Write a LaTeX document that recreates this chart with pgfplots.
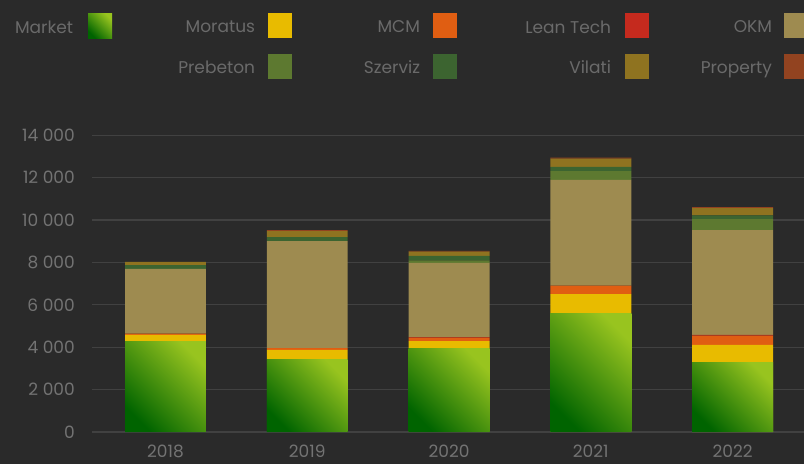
\documentclass[border=0pt]{standalone}
\usepackage{pgfplots}
\pgfplotsset{compat=1.18}
\usepackage{fontspec}
\setmainfont{Poppins}
\definecolor{bg}{HTML}{2A2A2A}
\definecolor{gridc}{HTML}{414141}
\definecolor{txt}{HTML}{6A6A6A}
\definecolor{tick}{HTML}{737373}
\definecolor{mkD}{HTML}{006400}
\definecolor{mkL}{HTML}{98C41F}
\definecolor{mor}{HTML}{E8BB00}
\definecolor{mcm}{HTML}{E05E12}
\definecolor{lean}{HTML}{C52A1E}
\definecolor{okm}{HTML}{9E8B50}
\definecolor{pre}{HTML}{5D7930}
\definecolor{sze}{HTML}{3C6430}
\definecolor{vil}{HTML}{8F7320}
\definecolor{prop}{HTML}{924320}
\pgfplotsset{
  sw/.style={legend image code/.code={\fill[##1] (0pt,-12.5pt) rectangle (24pt,12.5pt);}},
  frame/.style={scale only axis, width=712pt, height=296.8pt,
    at={(92pt,32pt)}, anchor=south west, bar width=0.571,
    xmin=-0.5185, xmax=4.504, ymin=0, ymax=14000},
  mk/.style={draw=none, top color=mkL, bottom color=mkD, shading angle=-45, bar shift=0pt},
}
\begin{document}
\begin{tikzpicture}
\useasboundingbox (0,0) rectangle (804pt,464pt);
\fill[bg] (0,0) rectangle (804pt,464pt);
\begin{axis}[
  frame,
  ybar stacked,
  every axis plot post/.append style={sw},
  axis line style={draw=none},
  major tick length=0pt,
  scaled y ticks=false,
  ymajorgrids, grid style={gridc, line width=1.2pt},
  ytick={0,2000,4000,6000,8000,10000,12000,14000},
  yticklabels={0,2 000,4 000,6 000,8 000,10 000,12 000,14 000},
  xtick={0,1,2,3,4},
  xticklabels={2018,2019,2020,2021,2022},
  tick label style={font=\fontsize{17}{20}\selectfont, text=tick},
  yticklabel style={anchor=east, inner sep=0pt, xshift=-17pt},
  xticklabel style={anchor=north, inner sep=0pt, yshift=-13pt},
  legend columns=5,
  legend plot pos=right,
  legend cell align=left,
  legend style={at={(-0.1292,1.4117)}, anchor=north west, draw=none, fill=none,
    inner sep=0pt, outer sep=0pt, column sep=0pt, row sep=15.5pt,
    font=\fontsize{17}{20}\selectfont, text=txt,
    nodes={inner sep=0pt, outer sep=0pt, yshift=-2pt}},
]
\addplot[draw=none, top color=mkL, bottom color=mkD, shading angle=-45]
  coordinates {(0,4261) (1,3443) (2,3962) (3,5613) (4,3286)};
\addlegendentry{\makebox[88pt][r]{Market\hspace*{15pt}}}
\addplot[draw=none, fill=mor]
  coordinates {(0,315) (1,425) (2,330) (3,896) (4,818)};
\addlegendentry{\makebox[156pt][r]{Moratus\hspace*{13pt}}}
\addplot[draw=none, fill=mcm]
  coordinates {(0,62) (1,94) (2,158) (3,394) (4,440)};
\addlegendentry{\makebox[141pt][r]{MCM\hspace*{13pt}}}
\addplot[draw=none, fill=lean]
  coordinates {(0,0) (1,0) (2,31) (3,0) (4,32)};
\addlegendentry{\makebox[168pt][r]{Lean Tech\hspace*{14pt}}}
\addplot[draw=none, fill=okm]
  coordinates {(0,3051) (1,5047) (2,3491) (3,4984) (4,4952)};
\addlegendentry{\makebox[135pt][r]{OKM\hspace*{12pt}}}
\addlegendimage{draw=none, fill=bg}
\addlegendentry{\makebox[88pt]{}}
\addplot[draw=none, fill=pre]
  coordinates {(0,0) (1,0) (2,126) (3,424) (4,519)};
\addlegendentry{\makebox[156pt][r]{Prebeton\hspace*{13pt}}}
\addplot[draw=none, fill=sze]
  coordinates {(0,188) (1,189) (2,204) (3,189) (4,173)};
\addlegendentry{\makebox[141pt][r]{Szerviz\hspace*{13pt}}}
\addplot[draw=none, fill=vil]
  coordinates {(0,142) (1,283) (2,204) (3,393) (4,346)};
\addlegendentry{\makebox[168pt][r]{Vilati\hspace*{14pt}}}
\addplot[draw=none, fill=prop]
  coordinates {(0,0) (1,47) (2,32) (3,47) (4,47)};
\addlegendentry{\makebox[135pt][r]{Property\hspace*{12pt}}}
\end{axis}
\begin{axis}[frame, ybar, hide axis]
\addplot[mk] coordinates {(0,4261)};
\addplot[mk] coordinates {(1,3443)};
\addplot[mk] coordinates {(2,3962)};
\addplot[mk] coordinates {(3,5613)};
\addplot[mk] coordinates {(4,3286)};
\end{axis}
\end{tikzpicture}
\end{document}
